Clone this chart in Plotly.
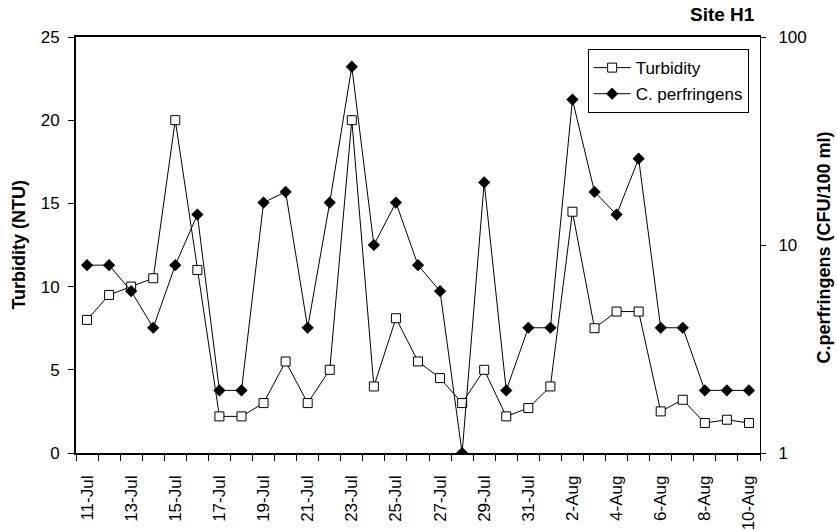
import plotly.graph_objects as go

dates = [
    "2008-07-11", "2008-07-12", "2008-07-13", "2008-07-14", "2008-07-15", "2008-07-16",
    "2008-07-17", "2008-07-18", "2008-07-19", "2008-07-20", "2008-07-21", "2008-07-22",
    "2008-07-23", "2008-07-24", "2008-07-25", "2008-07-26", "2008-07-27", "2008-07-28",
    "2008-07-29", "2008-07-30", "2008-07-31", "2008-08-01", "2008-08-02", "2008-08-03",
    "2008-08-04", "2008-08-05", "2008-08-06", "2008-08-07", "2008-08-08", "2008-08-09",
    "2008-08-10",
]
turbidity = [8.0, 9.5, 10.0, 10.5, 20.0, 11.0, 2.2, 2.2, 3.0, 5.5, 3.0, 5.0, 20.0, 4.0, 8.1,
             5.5, 4.5, 3.0, 5.0, 2.2, 2.7, 4.0, 14.5, 7.5, 8.5, 8.5, 2.5, 3.2, 1.8, 2.0, 1.8]
perfringens = [8, 8, 6, 4, 8, 14, 2, 2, 16, 18, 4, 16, 72, 10, 16, 8, 6, 1, 20, 2, 4, 4,
               50, 18, 14, 26, 4, 4, 2, 2, 2]
tick_dates = dates[::2]
tick_labels = ["11-Jul", "13-Jul", "15-Jul", "17-Jul", "19-Jul", "21-Jul", "23-Jul", "25-Jul",
               "27-Jul", "29-Jul", "31-Jul", "2-Aug", "4-Aug", "6-Aug", "8-Aug", "10-Aug"]
left_ticks = [0, 5, 10, 15, 20, 25]
right_ticks = [1, 10, 100]

FONT = "Liberation Sans, Arial, sans-serif"

fig = go.Figure()
fig.add_trace(go.Scatter(
    x=dates, y=turbidity, name="Turbidity", mode="lines+markers",
    line=dict(color="black", width=1),
    marker=dict(symbol="square", size=9, color="white", line=dict(color="black", width=1)),
    legendgroup="a",
))
fig.add_trace(go.Scatter(
    x=dates, y=perfringens, name="C. perfringens", mode="lines+markers", yaxis="y2",
    line=dict(color="black", width=1),
    marker=dict(symbol="diamond", size=9, color="black", line=dict(color="black", width=0.5)),
    legendgroup="b",
))

fig.update_layout(
    width=837, height=531,
    margin=dict(l=76, r=77, t=37, b=78, autoexpand=False),
    paper_bgcolor="white", plot_bgcolor="white",
    font=dict(family=FONT, size=17, color="black"),
    showlegend=True,
    legend=dict(
        x=0.748, y=0.971, xanchor="left", yanchor="top",
        bgcolor="white", bordercolor="black", borderwidth=1,
        font=dict(size=17), itemwidth=37, tracegroupgap=1,
        traceorder="grouped",
    ),
    xaxis=dict(
        type="date", automargin=False,
        range=["2008-07-10 12:00", "2008-08-10 12:00"],
        tickmode="array", tickvals=tick_dates, ticktext=tick_labels,
        tickangle=-90, ticks="outside", ticklen=6, tickcolor="rgba(0,0,0,0)",
        ticklabelstandoff=8,
        showgrid=False, zeroline=False,
        showline=True, linecolor="black", linewidth=1.5, mirror=True,
        tickfont=dict(size=17),
        minor=dict(ticks="outside", ticklen=6, tickcolor="black", tickwidth=1,
                   tick0="2008-07-10 12:00", dtick=86400000, showgrid=False),
    ),
    yaxis=dict(
        range=[0, 25], tickmode="array", tickvals=left_ticks, automargin=False,
        ticks="outside", ticklen=6, tickcolor="black",
        ticklabelstandoff=5,
        showgrid=False, zeroline=False,
        showline=True, linecolor="black", linewidth=2,
        tickfont=dict(size=17),
    ),
    yaxis2=dict(
        type="log", range=[0, 2], overlaying="y", side="right", automargin=False,
        tickmode="array", tickvals=right_ticks, ticktext=["1", "10", "100"],
        ticks="outside", ticklen=5, tickcolor="black",
        ticklabelstandoff=9,
        showgrid=False, zeroline=False,
        showline=True, linecolor="black", linewidth=1,
        tickfont=dict(size=17),
    ),
    yaxis3=dict(
        type="log", range=[0, 2], overlaying="y", side="right", anchor="x",
        automargin=False,
        tickmode="array", tickvals=right_ticks,
        ticks="inside", ticklen=5, tickcolor="black",
        showticklabels=False, showgrid=False, zeroline=False, showline=False,
    ),
    annotations=[
        dict(text="<b>Site H1</b>", xref="paper", yref="paper", x=0.9956, y=1.0529,
             xanchor="right", yanchor="middle", showarrow=False, font=dict(size=19)),
        dict(text="<b>Turbidity (NTU)</b>", xref="paper", yref="paper", x=-0.084, y=0.5,
             xanchor="center", yanchor="middle", textangle=-90, showarrow=False,
             font=dict(size=18)),
        dict(text="<b>C.perfringens (CFU/100 ml)</b>", xref="paper", yref="paper",
             x=1.095, y=0.494, xanchor="center", yanchor="middle", textangle=-90,
             showarrow=False, font=dict(size=18)),
    ],
)

fig.write_html(
    "out.html",
    config={"displayModeBar": False},
    post_script="document.body.style.margin='0';document.body.style.padding='0';",
)
